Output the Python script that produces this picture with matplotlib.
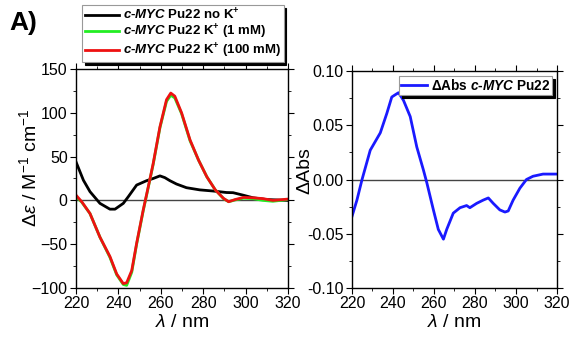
import numpy as np
import matplotlib
matplotlib.use('Agg')
import matplotlib.pyplot as plt
from matplotlib.ticker import MultipleLocator, FormatStrFormatter

plt.rcParams['font.family'] = ['Liberation Sans', 'DejaVu Sans']
plt.rcParams['mathtext.fontset'] = 'custom'
plt.rcParams['mathtext.rm'] = 'Liberation Sans'
plt.rcParams['mathtext.it'] = 'Liberation Sans:italic'
plt.rcParams['mathtext.bf'] = 'Liberation Sans:bold'
plt.rcParams['mathtext.bfit'] = 'Liberation Sans:italic:bold'

# CD spectra
wl_noK = [220, 223.5, 226.6, 231.3, 236, 238.4, 242.3, 244.6, 248.6, 253.3, 256.4,
          259.6, 261.9, 264.3, 267.4, 272.1, 278.4, 284.7, 291, 294.1, 298.8,
          303.5, 309.8, 320]
cd_noK = [44, 23, 10, -3.4, -10, -10, -3.4, 4, 17.5, 22.5, 25,
          28, 26, 22.5, 18.7, 14.5, 12, 10.7, 9, 8.8, 6,
          3, 1, 0]

wl_K = [220, 222.7, 226.6, 231.3, 236, 239.2, 242.3, 243.9, 246.3, 248.6, 251.7,
        254.1, 256.4, 259.6, 262.7, 264.7, 266.6, 269.8, 273.8, 277.8, 281.7,
        285.7, 289.6, 292, 295.1, 299, 303.5, 308.2, 312.9, 320]
cd_1mM = [4, -2, -15, -42, -65, -85, -96, -97, -82, -50, -12,
          15, 41, 83, 113, 120, 117, 99, 68, 46, 27,
          12, 2, -1.5, 0.5, 2.5, 2, 0, -1, 1]
cd_100mM = [6, -1.5, -15, -42, -64, -84, -95, -94, -80, -49, -11,
            15.6, 42, 84, 115, 122.5, 119, 100, 69, 46, 27,
            12, 2.3, -1.5, 1, 3.4, 3, 2, 0, 1.5]

# Absorbance difference
wl_abs = [220, 222.4, 224.9, 228.9, 233.8, 237, 239.4, 241, 242.7, 245.1, 248.4,
          251.6, 254.8, 256.5, 259.7, 262.1, 264.6, 266.2, 269.4, 272.7, 275.9,
          277.5, 280.8, 284, 286.5, 288.9, 292.1, 294.6, 296.2, 298.6, 301.9,
          305.1, 308.3, 313.2, 320]
d_abs = [-0.034, -0.019, 0.0, 0.027, 0.043, 0.061, 0.076, 0.078, 0.080, 0.073, 0.058,
         0.030, 0.009, -0.003, -0.028, -0.046, -0.055, -0.046, -0.031, -0.026, -0.024,
         -0.026, -0.022, -0.019, -0.017, -0.022, -0.028, -0.030, -0.029, -0.019, -0.008,
         0.0, 0.003, 0.005, 0.005]

fig = plt.figure(figsize=(5.71, 3.4), dpi=100)
ax1 = fig.add_axes([76/571, 1 - 288/340, 212/571, 219/340])
ax2 = fig.add_axes([352/571, 1 - 288/340, 205/571, 217/340])


def style(ax):
    ax.set_xlim(220, 320)
    ax.xaxis.set_major_locator(MultipleLocator(20))
    ax.xaxis.set_minor_locator(MultipleLocator(10))
    ax.tick_params(which='both', top=True, right=True, labelsize=11.5, pad=2)
    ax.tick_params(which='major', length=4)
    ax.tick_params(which='minor', length=2.5)
    for s in ax.spines.values():
        s.set_linewidth(1.0)
    ax.axhline(0, color='#444444', lw=1.0, zorder=1)
    ax.set_xlabel(r'$\it{λ}$ / nm', fontsize=14, labelpad=2)


lab_noK = r'$\mathbfit{c}$-$\mathbfit{MYC}$ Pu22 no K$^\mathbf{+}$'
lab_1 = r'$\mathbfit{c}$-$\mathbfit{MYC}$ Pu22 K$^\mathbf{+}$ (1 mM)'
lab_100 = r'$\mathbfit{c}$-$\mathbfit{MYC}$ Pu22 K$^\mathbf{+}$ (100 mM)'
ax1.plot(wl_noK, cd_noK, color='black', lw=2, label=lab_noK)
ax1.plot(wl_K, cd_1mM, color='#22ee22', lw=2, label=lab_1)
ax1.plot(wl_K, cd_100mM, color='#ee1111', lw=2, label=lab_100)
style(ax1)
ax1.set_ylim(-100, 150)
ax1.yaxis.set_major_locator(MultipleLocator(50))
ax1.yaxis.set_minor_locator(MultipleLocator(25))
ax1.set_ylabel(r'$\it{Δε}$ / M$^{-1}$ cm$^{-1}$', fontsize=14)
ax1.yaxis.set_label_coords(-0.17, 0.55)
leg1 = ax1.legend(loc='upper left', bbox_to_anchor=(82/571, 1 - 5/340),
                  bbox_transform=fig.transFigure, fancybox=False,
                  shadow={'color': 'black', 'alpha': 1}, handlelength=2.6,
                  prop={'weight': 'bold', 'size': 9.5}, borderpad=0.2,
                  labelspacing=0.0, handletextpad=0.3, borderaxespad=0)
leg1.get_frame().set_edgecolor('#999999')
leg1.get_frame().set_linewidth(0.8)

ax2.plot(wl_abs, d_abs, color='#1a1aff', lw=2,
         label=r'ΔAbs $\mathbfit{c}$-$\mathbfit{MYC}$ Pu22')
style(ax2)
ax2.set_ylim(-0.1, 0.1)
ax2.yaxis.set_major_locator(MultipleLocator(0.05))
ax2.yaxis.set_minor_locator(MultipleLocator(0.025))
ax2.yaxis.set_major_formatter(FormatStrFormatter('%.2f'))
ax2.set_ylabel('ΔAbs', fontsize=14)
ax2.yaxis.set_label_coords(-0.19, 0.54)
leg2 = ax2.legend(loc='upper right', fancybox=False,
                  shadow={'color': 'black', 'alpha': 1}, handlelength=1.9,
                  prop={'weight': 'bold', 'size': 9.8}, borderpad=0.15,
                  handletextpad=0.25, borderaxespad=0.35)
leg2.get_frame().set_edgecolor('#999999')
leg2.get_frame().set_linewidth(0.8)

fig.text(9/571, 1 - 23/340, 'A)', fontsize=19, fontweight='bold', va='center')

fig.savefig('out.png', dpi=100)
